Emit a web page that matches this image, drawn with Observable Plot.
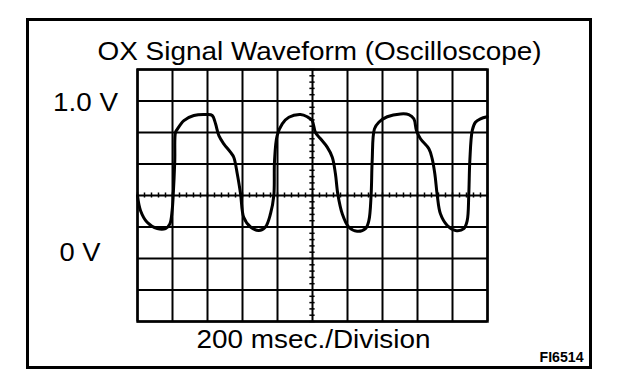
<!DOCTYPE html>
<html><head><meta charset="utf-8">
<script src="https://cdn.jsdelivr.net/npm/d3@7"></script>
<script src="https://cdn.jsdelivr.net/npm/@observablehq/plot@0.6"></script>
<style>
html,body{margin:0;padding:0;background:#fff;}
#wrap{position:relative;width:624px;height:388px;overflow:hidden;background:#fff;}
#box{position:absolute;left:26px;top:18px;width:566px;height:351px;border:3px solid #000;box-sizing:border-box;}
#wrap svg{position:absolute;left:0;top:0;}
</style></head><body><div id="wrap"><div id="box"></div></div>
<script>
// ---- text ----
const titleText = "OX Signal Waveform (Oscilloscope)";
const captionText = "200 msec./Division";
const figureCode = "FI6514";
const voltLabelTop = "1.0 V";
const voltLabelBottom = "0 V";
const voltLabelTopValue = 1.0;
const voltLabelBottomValue = 0;

// ---- grid (200 ms per division, 0.2 V per division) ----
const timeGrid = [0, 200, 400, 600, 800, 1000, 1200, 1400, 1600, 1800, 2000];
const voltGrid = [-0.4, -0.2, 0, 0.2, 0.4, 0.6, 0.8, 1.0, 1.2];
const centerTime = 1000;
const centerVolt = 0.4;
const timeMinor = d3.range(0, 2001, 40);
const voltMinor = d3.range(-0.4, 1.2001, 0.04);

// ---- waveform ----
const timeMs = [0, 17, 55, 113, 160, 185, 198, 204, 213, 217, 227, 265, 322, 398, 427, 446, 465, 493, 531, 550, 570, 589,
  607, 646, 693, 731, 760, 779, 783, 798, 827, 865, 931, 970, 998, 1017, 1046, 1084, 1113, 1131, 1145,
  1170, 1207, 1255, 1303, 1322, 1335, 1341, 1354, 1379, 1427, 1503, 1550, 1579, 1594, 1617, 1665, 1684, 1699, 1713,
  1731, 1770, 1817, 1865, 1884, 1893, 1899, 1913, 1931, 1960, 1998];
const volts = [0.40, 0.305, 0.23, 0.19, 0.19, 0.22, 0.305, 0.40, 0.62, 0.80, 0.82, 0.876, 0.908, 0.914, 0.908, 0.855, 0.78, 0.728, 0.675, 0.643, 0.538, 0.41,
  0.262, 0.20, 0.178, 0.20, 0.284, 0.40, 0.62, 0.78, 0.855, 0.897, 0.914, 0.90, 0.876, 0.80, 0.76, 0.707, 0.643, 0.538, 0.406,
  0.284, 0.20, 0.173, 0.19, 0.24, 0.406, 0.62, 0.823, 0.865, 0.90, 0.918, 0.914, 0.887, 0.813, 0.76, 0.697, 0.633, 0.538, 0.40,
  0.284, 0.21, 0.178, 0.19, 0.24, 0.406, 0.62, 0.813, 0.865, 0.887, 0.90];

const wave = timeMs.map((t, i) => ({t, v: volts[i]}));
const font = "'Liberation Sans', Arial, Helvetica, sans-serif";

const plot = Plot.plot({
  width: 624, height: 388,
  marginLeft: 137, marginRight: 137, marginTop: 69, marginBottom: 67,
  x: {domain: [0, 2000], axis: null},
  y: {domain: [-0.4, 1.2], axis: null},
  style: {background: "transparent", fontFamily: font, color: "#000"},
  marks: [
    Plot.ruleX(timeGrid, {stroke: "#000", strokeWidth: 2}),
    Plot.ruleY(voltGrid, {stroke: "#000", strokeWidth: 2}),
    Plot.ruleX(timeMinor, {x: d => d, y1: centerVolt - 0.016, y2: centerVolt + 0.016, stroke: "#000", strokeWidth: 1.5}),
    Plot.ruleY(voltMinor, {y: d => d, x1: centerTime - 15, x2: centerTime + 15, stroke: "#000", strokeWidth: 1.5}),
    Plot.line(wave, {x: "t", y: "v", curve: "catmull-rom", stroke: "#000", strokeWidth: 3, strokeLinejoin: "round"}),
    Plot.frame({stroke: "#000", strokeWidth: 2.5}),
    Plot.text([titleText], {frameAnchor: "top", dx: 7, dy: -10, lineAnchor: "bottom", fontSize: 26, fill: "#000"}),
    Plot.text([captionText], {frameAnchor: "bottom", dx: 1, dy: 26, lineAnchor: "bottom", fontSize: 26, fill: "#000"}),
    Plot.text([figureCode], {frameAnchor: "bottom-right", textAnchor: "end", dx: 96, dy: 40, lineAnchor: "bottom", fontSize: 15, fontWeight: "bold", fill: "#000"}),
    Plot.text([voltLabelTopValue], {y: d => d, text: () => voltLabelTop, frameAnchor: "left", textAnchor: "middle", dx: -52, dy: 9.5, lineAnchor: "bottom", fontSize: 26, fill: "#000"}),
    Plot.text([voltLabelBottomValue], {y: d => d, text: () => voltLabelBottom, frameAnchor: "left", textAnchor: "middle", dx: -57.5, dy: 2, lineAnchor: "bottom", fontSize: 26, fill: "#000"})
  ]
});

document.getElementById("wrap").appendChild(plot);
const lengths = new Map([[titleText, 444], [captionText, 234], [figureCode, 44], [voltLabelTop, 65], [voltLabelBottom, 41]]);
d3.select(plot).selectAll("text").each(function () {
  const len = lengths.get(this.textContent);
  if (len) d3.select(this).attr("textLength", len).attr("lengthAdjust", "spacingAndGlyphs");
});
</script></body></html>
